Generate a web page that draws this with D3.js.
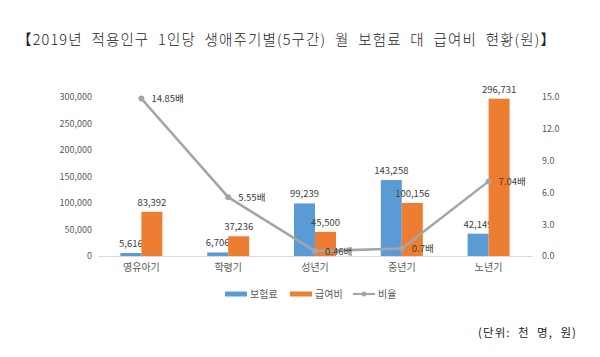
<!DOCTYPE html>
<html><head><meta charset="utf-8">
<script src="https://cdn.jsdelivr.net/npm/d3@7"></script>
<style>body{margin:0;background:#fff}svg{display:block}text{font-family:"Noto Sans CJK KR","Noto Sans",sans-serif}</style>
</head><body>
<svg id="c" width="600" height="357"></svg>
<script>
const categories = ["영유아기","학령기","성년기","중년기","노년기"];
const premium = [5616, 6706, 99239, 143258, 42149];
const benefit = [83392, 37236, 45500, 100156, 296731];
const ratio = [14.85, 5.55, 0.46, 0.7, 7.04];
const ratioLabels = ["14.85배","5.55배","0.46배","0.7배","7.04배"];
const leftTicks = [0,50000,100000,150000,200000,250000,300000];
const rightTicks = [0,3,6,9,12,15];
const seriesNames = ["보험료","급여비","비율"];
const title = "【2019년  적용인구  1인당  생애주기별(5구간)  월  보험료  대  급여비  현황(원)】";
const unit = "(단위:  천  명,  원)";

const svg = d3.select("#c");
const colors = {blue:"#5B9BD5", orange:"#ED7D31", gray:"#A5A5A5"};
const x0 = 98, x1 = 532, yTop = 97, yBot = 256;

svg.append("text").attr("x",17).attr("y",45).attr("font-size",14.5).attr("fill","#222")
  .attr("font-weight",300).style("white-space","pre")
  .attr("textLength",538).attr("lengthAdjust","spacing").text(title);

const x = d3.scaleBand().domain(categories).range([x0,x1]);
const yL = d3.scaleLinear().domain([0,300000]).range([yBot,yTop]);
const yR = d3.scaleLinear().domain([0,15]).range([yBot,yTop]);

// left axis
const gl = svg.append("g").attr("transform",`translate(${x0-6},0)`)
  .call(d3.axisLeft(yL).tickValues(leftTicks).tickSize(0).tickPadding(0).tickFormat(d3.format(",")));
gl.select(".domain").remove();
gl.selectAll("text").attr("font-size",9).attr("fill","#595959").attr("font-family","'Noto Sans',sans-serif");

const gr = svg.append("g").attr("transform",`translate(${x1+10},0)`)
  .call(d3.axisRight(yR).tickValues(rightTicks).tickSize(0).tickPadding(0).tickFormat(d3.format(".1f")));
gr.select(".domain").remove();
gr.selectAll("text").attr("font-size",9).attr("fill","#595959").attr("font-family","'Noto Sans',sans-serif");

// bottom axis
const gb = svg.append("g").attr("transform",`translate(0,${yBot})`)
  .call(d3.axisBottom(x).tickSize(0).tickPadding(8));
gb.select(".domain").attr("stroke","#d9d9d9");
gb.selectAll("text").attr("font-size",10).attr("fill","#595959");

const bw = 21;
const cx = c => x(c) + x.bandwidth()/2;
// bars
const pairs = [[premium,colors.blue,-bw],[benefit,colors.orange,0]];
pairs.forEach(([vals,col,off])=>{
  svg.append("g").selectAll("rect").data(vals).join("rect")
    .attr("x",(d,i)=>cx(categories[i])+off).attr("width",bw)
    .attr("y",d=>yL(d)).attr("height",d=>yBot-yL(d)).attr("fill",col);
  svg.append("g").selectAll("text").data(vals).join("text")
    .attr("x",(d,i)=>cx(categories[i])+off+bw/2).attr("y",d=>yL(d)-6)
    .attr("text-anchor","middle").attr("font-size",9.5).attr("fill","#404040")
    .attr("font-family","'Noto Sans',sans-serif")
    .text(d3.format(","));
});

// line
const line = d3.line().x((d,i)=>cx(categories[i])).y(d=>yR(d));
svg.append("path").datum(ratio).attr("d",line).attr("fill","none")
  .attr("stroke",colors.gray).attr("stroke-width",2.5);
svg.append("g").selectAll("circle").data(ratio).join("circle")
  .attr("cx",(d,i)=>cx(categories[i])).attr("cy",d=>yR(d)).attr("r",3).attr("fill",colors.gray);
svg.append("g").selectAll("text").data(ratio).join("text")
  .attr("x",(d,i)=>cx(categories[i])+10).attr("y",d=>yR(d)+3.5)
  .attr("font-size",9.5).attr("fill","#404040")
  .text((d,i)=>ratioLabels[i]);

// legend
const lg = svg.append("g").attr("transform","translate(0,294)");
const items = [[225,colors.blue,"rect"],[290,colors.orange,"rect"],[353,colors.gray,"line"]];
items.forEach(([lx,col,t],i)=>{
  if(t==="rect") lg.append("rect").attr("x",lx).attr("y",-2.5).attr("width",22).attr("height",5).attr("fill",col);
  else {
    lg.append("line").attr("x1",lx).attr("x2",lx+22).attr("y1",0).attr("y2",0).attr("stroke",col).attr("stroke-width",2);
    lg.append("circle").attr("cx",lx+11).attr("cy",0).attr("r",2.5).attr("fill",col);
  }
  lg.append("text").attr("x",lx+25).attr("y",3.5).attr("font-size",10).attr("fill","#595959").text(seriesNames[i]);
});

svg.append("text").attr("x",478).attr("y",337).attr("font-size",11.5).attr("fill","#222")
  .style("white-space","pre").attr("textLength",98).attr("lengthAdjust","spacing").text(unit);
</script>
</body></html>
